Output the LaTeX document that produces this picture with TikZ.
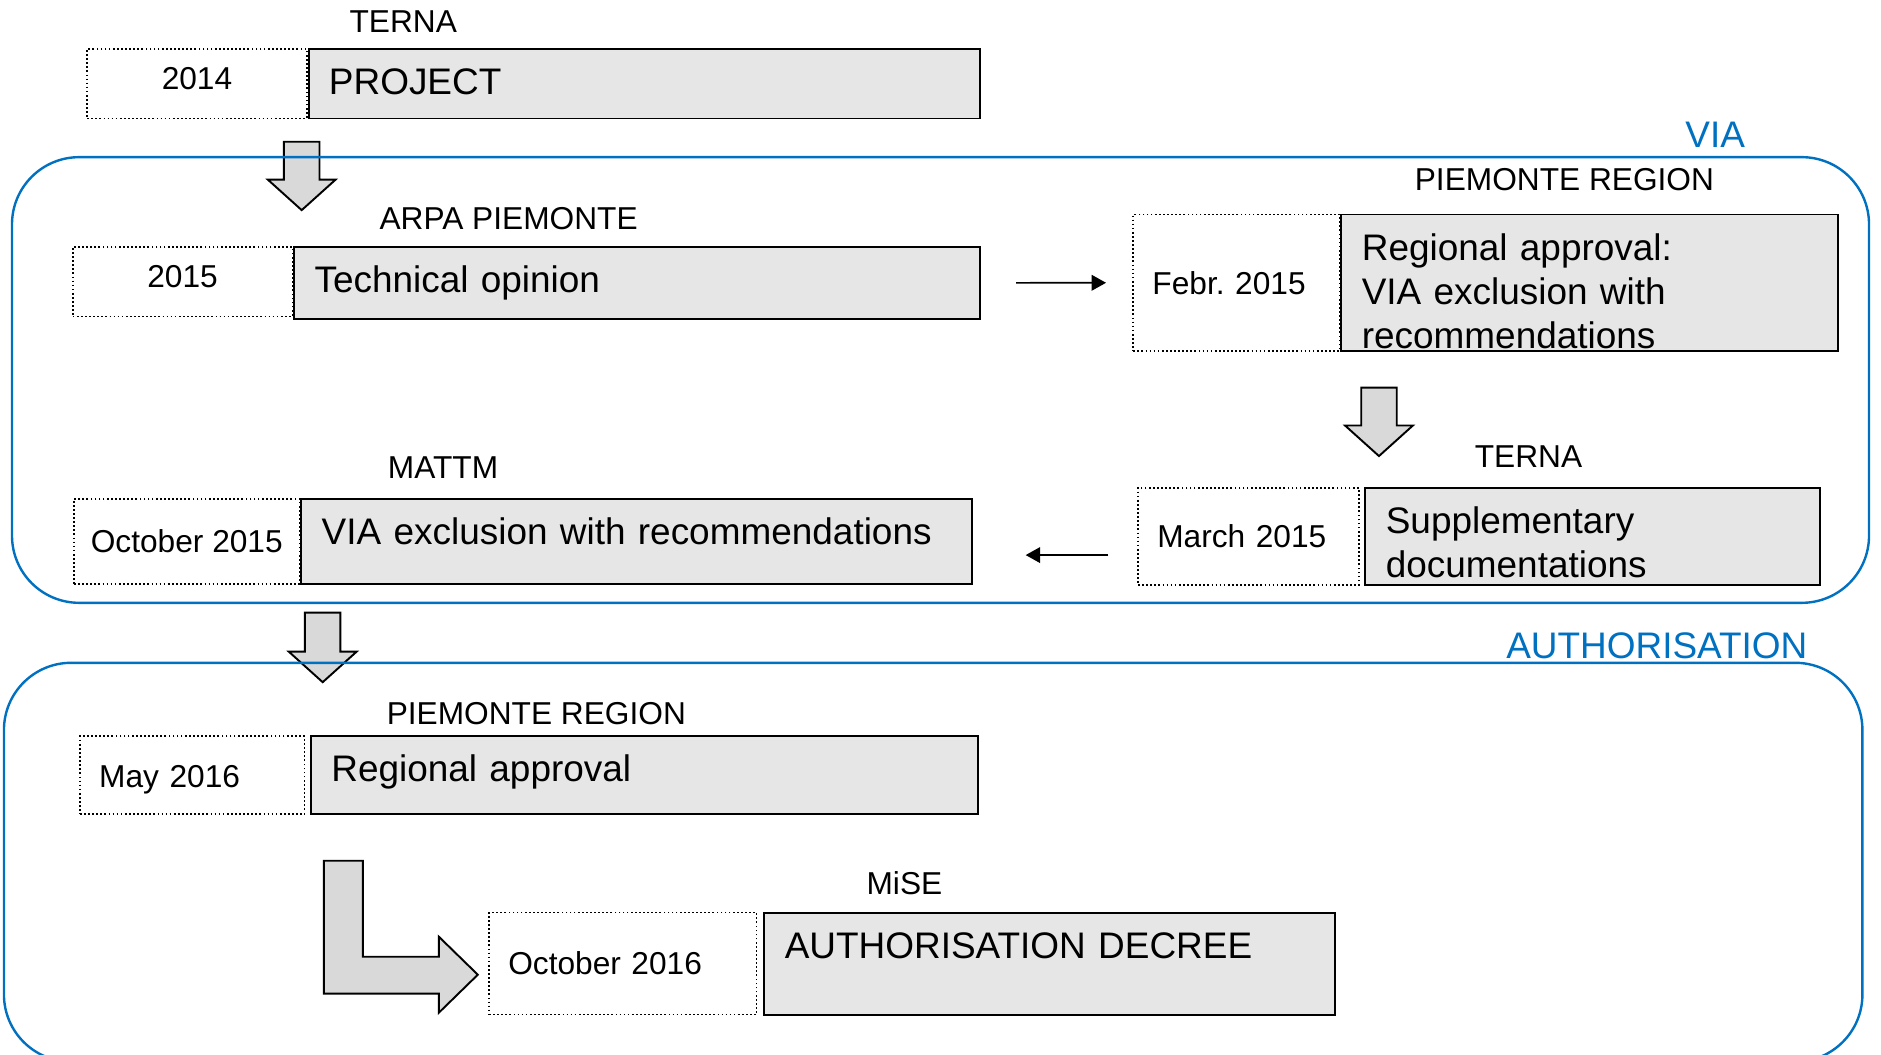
\documentclass[tikz,border=0pt]{standalone}
\usepackage{fontspec}
\setmainfont{Liberation Sans}
\usetikzlibrary{positioning,shapes.arrows,arrows.meta}
\definecolor{viablue}{RGB}{0,112,192}
\definecolor{boxgray}{RGB}{230,230,230}
\definecolor{arrowgray}{RGB}{217,217,217}
\newcommand{\bigtxt}{\fontsize{15.4}{18.5}\selectfont}
\newcommand{\smalltxt}{\fontsize{13.2}{15.8}\selectfont}

\begin{document}
\begin{tikzpicture}[x=0.5pt,y=-0.5pt,
  actbox/.style={draw,line width=0.8pt,fill=boxgray,anchor=north west,align=left,
    inner xsep=8.5pt,inner ysep=0pt,text height=19pt,font=\bigtxt},
  datebox/.style={draw,densely dotted,line width=0.7pt,anchor=north west,align=left,
    inner xsep=8pt,inner ysep=0pt,font=\smalltxt},
  who/.style={anchor=base west,inner sep=0pt,font=\smalltxt},
  phase/.style={anchor=base east,inner sep=0pt,font=\bigtxt,text=viablue},
  frame/.style={draw=viablue,line width=1pt,rounded corners=28pt},
  downarrow/.style={single arrow,draw,line width=0.8pt,fill=arrowgray,rotate=-90,
    minimum height=28.5pt,minimum width=27.5pt,single arrow head extend=6.75pt,
    single arrow tip angle=96,inner xsep=0pt,inner ysep=7pt},
  bentarrow/.style={draw,line width=0.8pt,fill=arrowgray},
  flow/.style={-{Triangle[length=6pt,width=6.5pt]},line width=0.7pt}]
\useasboundingbox (0,0) rectangle (1568,879);

% VIA
\node[datebox,text width=75.5pt,align=center,text height=17pt,text depth=12pt] (d2014) at (72,40) {2014};
\node[actbox,text width=263pt,text depth=10pt] (proj) at (d2014.north east) {PROJECT};
\node[who] (terna1) at (291,27) {TERNA};

\node[datebox,text width=75.5pt,align=center,text height=17pt,text depth=12pt] (d2015) at (60,205) {2015};
\node[actbox,text width=269pt,text depth=11pt] (tech) at (d2015.north east) {Technical opinion};
\node[who] (arpa) at (316,191) {ARPA PIEMONTE};

\node[datebox,text width=70pt,minimum height=57pt] (dfeb) at (944,178) {Febr.\ 2015};
\node[actbox,text width=190pt,text depth=38pt] (regap1) at (dfeb.north east)
  {Regional approval:\\VIA exclusion with\\recommendations};
\node[who] (region1) at (1179,159) {PIEMONTE REGION};

\node[datebox,text width=76pt,minimum height=40.5pt] (dmar) at (948,406) {March 2015};
\node[actbox,text width=172.5pt,text depth=21.5pt] (suppl) at ([xshift=2pt]dmar.north east)
  {Supplementary\\documentations};
\node[who] (terna2) at (1229,390) {TERNA};

\node[datebox,align=center,inner xsep=0pt,minimum width=94pt,minimum height=35.5pt] (doct15) at (61,415) {October 2015};
\node[actbox,text width=262.5pt,text depth=16.5pt] (viaexcl) at (doct15.north east)
  {VIA exclusion with recommendations};
\node[who] (mattm) at (323,399) {MATTM};

% AUTHORISATION
\node[datebox,text width=77.5pt,text height=21.25pt,text depth=11.25pt] (dmay) at (66,613) {May 2016};
\node[actbox,text width=261pt,text depth=13.5pt] (regap2) at ([xshift=2pt]dmay.north east)
  {Regional approval};
\node[who] (region2) at (322,604) {PIEMONTE REGION};

\node[datebox,text width=95.5pt,minimum height=42.5pt] (doct16) at (407,760) {October 2016};
\node[actbox,text width=221pt,text depth=23.5pt] (decree) at ([xshift=2.5pt]doct16.north east)
  {AUTHORISATION DECREE};
\node[who] (mise) at (722,746) {MiSE};

% arrows
\node[downarrow] (a1) at (251.5,140) {};
\node[downarrow] (a2) at (1149.5,345) {};
\node[downarrow,minimum height=29pt,minimum width=28pt] (a3) at (269,533) {};
\draw[bentarrow] (270,717.5) -- (302.5,717.5) -- (302.5,797.5) -- (365.8,797.5)
  -- (365.8,780.8) -- (398.3,812.5) -- (365.8,844.2) -- (365.8,828.3)
  -- (270,828.3) -- cycle;

\draw[flow,shorten <=14.5pt,shorten >=11pt] (tech.east) -- (dfeb.west);
\coordinate (back) at ([xshift=-12pt,yshift=-7.75pt]dmar.west);
\draw[flow,shorten >=22pt] (back) -- (back -| viaexcl.east);

% phases
\draw[frame] (10,131) rectangle (1558,502.5);
\draw[frame] (3.3,552.5) rectangle (1552.5,885);
\node[phase] (via) at (1455,123) {VIA};
\node[phase] (auth) at (1507,549) {AUTHORISATION};
\end{tikzpicture}
\end{document}
